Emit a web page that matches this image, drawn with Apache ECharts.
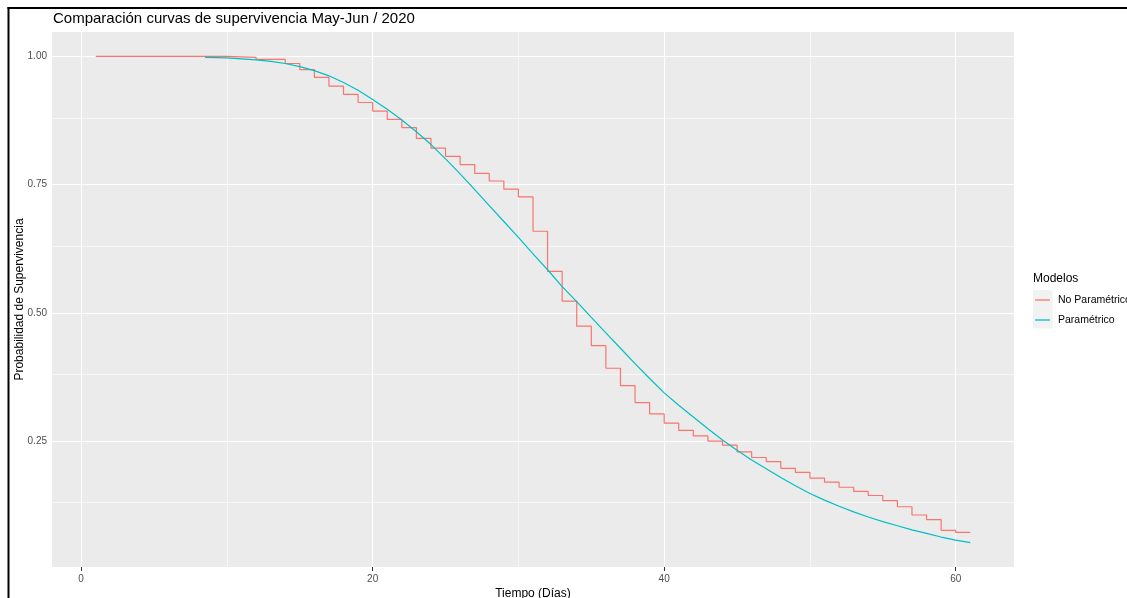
<!DOCTYPE html>
<html>
<head>
<meta charset="utf-8">
<script src="https://cdn.jsdelivr.net/npm/echarts@6/dist/echarts.min.js"></script>
<style>
  html, body { margin: 0; padding: 0; background: #ffffff; }
  #chart { width: 1127px; height: 598px; }
</style>
</head>
<body>
<div id="chart"></div>
<script>
// Kaplan-Meier estimate (step curve)
const kmTimes = [1, 10, 12, 14, 15, 16, 17, 18, 19, 20, 21, 22, 23, 24, 25, 26, 27, 28, 29, 30,
  31, 32, 33, 34, 35, 36, 37, 38, 39, 40, 41, 42, 43, 44, 45, 46, 47, 48, 49, 50,
  51, 52, 53, 54, 55, 56, 57, 58, 59, 60, 61];
const kmSurv = [1.000, 0.998, 0.994, 0.986, 0.974, 0.959, 0.942, 0.926, 0.910, 0.893, 0.877, 0.861, 0.840, 0.821, 0.805, 0.789, 0.772, 0.757, 0.741, 0.726,
  0.659, 0.581, 0.523, 0.474, 0.436, 0.392, 0.358, 0.325, 0.303, 0.285, 0.271, 0.260, 0.250, 0.242, 0.229, 0.218, 0.210, 0.197, 0.189, 0.178,
  0.170, 0.160, 0.152, 0.144, 0.134, 0.122, 0.106, 0.097, 0.076, 0.072, 0.072];

// Fitted parametric survival curve
const parTimes = [8.5, 10, 11, 12, 13, 14, 15, 16, 17, 18, 19, 20, 21, 22, 23, 24, 25, 26, 27, 28, 29, 30,
  31, 32, 33, 34, 35, 36, 37, 38, 39, 40, 41, 42, 43, 44, 45, 46, 47, 48, 49, 50,
  51, 52, 53, 54, 55, 56, 57, 58, 59, 60, 61];
const parSurv = [0.998, 0.997, 0.995, 0.993, 0.990, 0.986, 0.980, 0.972, 0.962, 0.949, 0.934, 0.916, 0.897, 0.876, 0.853, 0.828, 0.800, 0.771, 0.740, 0.709, 0.678, 0.647,
  0.615, 0.584, 0.551, 0.522, 0.491, 0.461, 0.431, 0.401, 0.372, 0.344, 0.320, 0.297, 0.274, 0.252, 0.232, 0.213, 0.196, 0.179, 0.163, 0.148,
  0.135, 0.123, 0.112, 0.102, 0.093, 0.085, 0.077, 0.070, 0.063, 0.057, 0.052];

const xTicks = [0, 20, 40, 60];
const xMinor = [10, 30, 50];
const yTicks = [0.25, 0.50, 0.75, 1.00];
const yMinor = [0.125, 0.375, 0.625, 0.875];

const seriesNames = ['No Paramétrico', 'Paramétrico'];
const seriesColors = ['#F8766D', '#00BFC4'];

const FONT = 'Liberation Sans, Arial, sans-serif';

function pairs(xs, ys) { return xs.map((x, i) => [x, ys[i]]); }

const gridLines = []
  .concat(xTicks.map(v => ({ xAxis: v, lineStyle: { width: 1.1 } })))
  .concat(xMinor.map(v => ({ xAxis: v, lineStyle: { width: 0.55 } })))
  .concat(yTicks.map(v => ({ yAxis: v, lineStyle: { width: 1.1 } })))
  .concat(yMinor.map(v => ({ yAxis: v, lineStyle: { width: 0.55 } })));

const chart = echarts.init(document.getElementById('chart'), null, { renderer: 'canvas' });

chart.setOption({
  animation: false,
  backgroundColor: '#ffffff',
  textStyle: { fontFamily: FONT },
  title: [
    {
      text: 'Comparación curvas de supervivencia May-Jun / 2020',
      left: 53, top: 11, padding: 0,
      textStyle: { fontSize: 15, fontWeight: 'normal', color: '#000000', fontFamily: FONT }
    },
    {
      text: 'Modelos',
      left: 1033, top: 273, padding: 0,
      textStyle: { fontSize: 12, fontWeight: 'normal', color: '#000000', fontFamily: FONT }
    }
  ],
  legend: {
    data: seriesNames,
    orient: 'vertical',
    left: 1035, top: 294,
    padding: 0,
    itemWidth: 15, itemHeight: 1.3,
    itemGap: 8,
    icon: 'rect',
    z: 5,
    selectedMode: false,
    textStyle: { fontSize: 10.5, lineHeight: 12, color: '#000000', fontFamily: FONT, padding: [0, 0, 0, 3] }
  },
  graphic: [
    // legend key background
    { type: 'rect', z: 1, shape: { x: 1033, y: 290, width: 19.5, height: 38.5 }, style: { fill: '#F2F2F2' } },
    // frame lines on the left and top edges
    { type: 'rect', z: 10, shape: { x: 7.5, y: 7, width: 2, height: 591 }, style: { fill: '#000000' } },
    { type: 'rect', z: 10, shape: { x: 7.5, y: 7, width: 1120, height: 2 }, style: { fill: '#000000' } }
  ],
  grid: {
    left: 52, right: 113, top: 32, bottom: 31,
    outerBoundsMode: 'none',
    containLabel: false,
    show: true, backgroundColor: '#EBEBEB', borderWidth: 0
  },
  xAxis: {
    type: 'value',
    min: -2, max: 64,
    name: 'Tiempo (Días)',
    nameLocation: 'middle',
    nameGap: 21,
    nameMoveOverlap: false,
    nameTextStyle: { fontSize: 12, color: '#000000', fontFamily: FONT, verticalAlign: 'top' },
    axisLine: { show: false },
    splitLine: { show: false },
    axisTick: { show: true, length: 4, lineStyle: { color: '#333333', width: 1 }, customValues: xTicks },
    axisLabel: { show: true, customValues: xTicks, margin: 7, fontSize: 10, color: '#4D4D4D', fontFamily: FONT,
      formatter: v => String(v) }
  },
  yAxis: {
    type: 'value',
    min: 0.0046, max: 1.0474,
    name: 'Probabilidad de Supervivencia',
    nameLocation: 'middle',
    nameGap: 26,
    nameMoveOverlap: false,
    nameTextStyle: { fontSize: 12, color: '#000000', fontFamily: FONT },
    axisLine: { show: false },
    splitLine: { show: false },
    axisTick: { show: true, length: 4, lineStyle: { color: '#333333', width: 1 }, customValues: yTicks },
    axisLabel: { show: true, customValues: yTicks, margin: 5, fontSize: 10, color: '#4D4D4D', fontFamily: FONT,
      formatter: v => v.toFixed(2) }
  },
  series: [
    {
      name: '_panelGrid',
      type: 'line',
      data: [],
      z: 1,
      silent: true,
      markLine: {
        z: 1,
        silent: true,
        symbol: ['none', 'none'],
        label: { show: false },
        animation: false,
        lineStyle: { color: '#FFFFFF', type: 'solid' },
        data: gridLines
      }
    },
    {
      name: seriesNames[0],
      type: 'line',
      step: 'end',
      data: pairs(kmTimes, kmSurv),
      showSymbol: false,
      z: 3,
      color: seriesColors[0],
      lineStyle: { color: seriesColors[0], width: 1.2 }
    },
    {
      name: seriesNames[1],
      type: 'line',
      data: pairs(parTimes, parSurv),
      showSymbol: false,
      z: 4,
      color: seriesColors[1],
      lineStyle: { color: seriesColors[1], width: 1.2 }
    }
  ]
});
</script>
</body>
</html>
